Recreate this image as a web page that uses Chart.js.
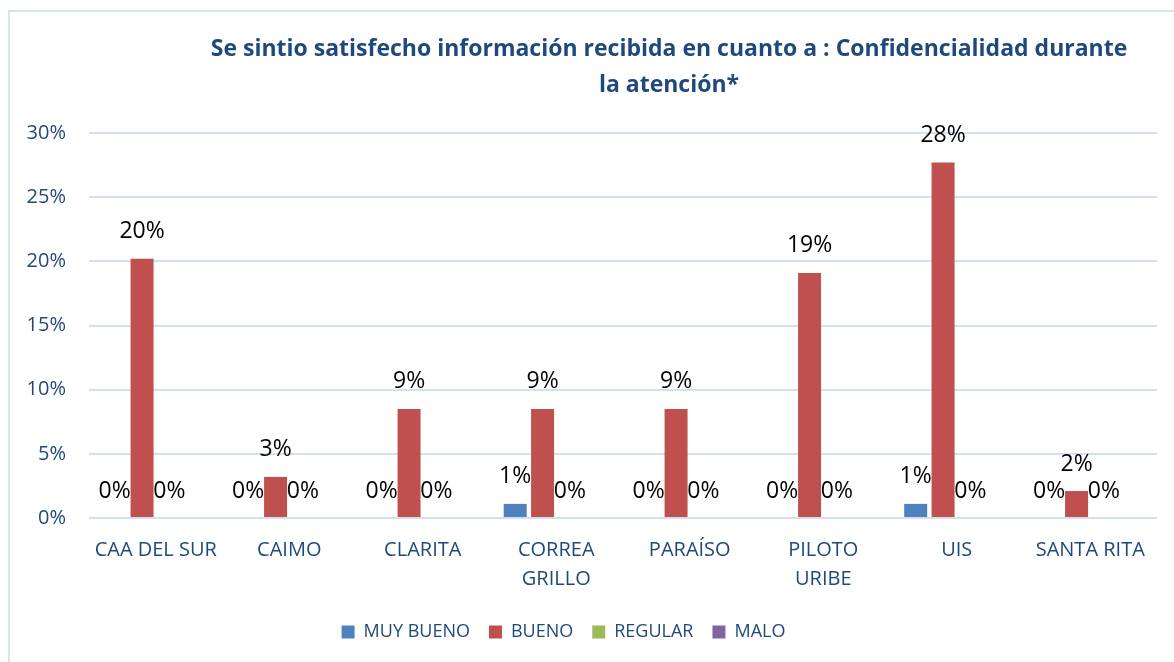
<!DOCTYPE html>
<html>
<head>
<meta charset="utf-8">
<script src="https://cdn.jsdelivr.net/npm/chart.js@4.4.0/dist/chart.umd.min.js"></script>
<style>
  body { margin: 0; background: #fff; }
  #frame {
    position: absolute; left: 8px; top: 10px;
    width: 1170px; height: 660px;
    border: 2px solid #d9e4f3;
  }
  #c { position: absolute; left: 0; top: 0; }
</style>
</head>
<body>
<div id="frame"></div>
<canvas id="c" width="1174" height="662"></canvas>
<script>
const categories = [
  "CAA DEL SUR", "CAIMO", "CLARITA", ["CORREA", "GRILLO"],
  "PARAÍSO", ["PILOTO", "URIBE"], "UIS", "SANTA RITA"
];
const muyBueno = [0, 0, 0, 1.1, 0, 0, 1.1, 0];
const bueno = [20.2, 3.2, 8.5, 8.5, 8.5, 19.1, 27.7, 2.1];
const regular = [0, 0, 0, 0, 0, 0, 0, 0];
const malo = [0, 0, 0, 0, 0, 0, 0, 0];
const yTicks = [0, 5, 10, 15, 20, 25, 30];

const titleLines = [
  "Se sintio satisfecho información recibida en cuanto a : Confidencialidad durante",
  "la atención*"
];

const textBlue = "#1f497d";
const font = "'Open Sans', 'Noto Sans', sans-serif";

// title drawn by hand so it can sit off-centre like the original
const titlePlugin = {
  id: "sideTitle",
  afterDraw(chart) {
    const ctx = chart.ctx;
    ctx.save();
    ctx.fillStyle = textBlue;
    ctx.font = "bold 23px " + font;
    ctx.textAlign = "center";
    ctx.textBaseline = "middle";
    ctx.fillText(titleLines[0], 669, 49);
    ctx.fillText(titleLines[1], 669, 85);
    ctx.restore();
  }
};

// value labels above bars (no labels for MALO)
const labelPlugin = {
  id: "barLabels",
  afterDatasetsDraw(chart) {
    const ctx = chart.ctx;
    ctx.save();
    ctx.fillStyle = "#000";
    ctx.font = "23px " + font;
    ctx.textAlign = "center";
    ctx.textBaseline = "middle";
    chart.data.datasets.forEach((ds, i) => {
      if (ds.noLabels) return;
      const meta = chart.getDatasetMeta(i);
      meta.data.forEach((bar, j) => {
        ctx.fillText(Math.round(ds.data[j]) + "%", bar.x, bar.y - 27);
      });
    });
    ctx.restore();
  }
};

new Chart(document.getElementById("c"), {
  type: "bar",
  data: {
    labels: categories,
    datasets: [
      { label: "MUY BUENO", data: muyBueno, backgroundColor: "#4f81bd" },
      { label: "BUENO", data: bueno, backgroundColor: "#c0504d" },
      { label: "REGULAR", data: regular, backgroundColor: "#9bbb59" },
      { label: "MALO", data: malo, backgroundColor: "#8064a2", noLabels: true }
    ]
  },
  options: {
    responsive: false,
    animation: false,
    devicePixelRatio: 1,
    // negative left padding moves the legend left; the y axis width makes up for it
    layout: { padding: { top: 133, right: 17, bottom: 11, left: -30 } },
    datasets: { bar: { barPercentage: 0.84, categoryPercentage: 0.82 } },
    plugins: {
      legend: {
        position: "bottom",
        labels: {
          boxWidth: 13, boxHeight: 13, padding: 19,
          color: textBlue, font: { family: font, size: 18 }
        }
      },
      tooltip: { enabled: false }
    },
    scales: {
      y: {
        min: 0, max: 30,
        afterFit(s) { s.width = 119; },
        afterBuildTicks(s) { s.ticks = yTicks.map(v => ({ value: v })); },
        ticks: {
          padding: 23, color: textBlue,
          font: { family: font, size: 20 },
          callback: v => v + "%"
        },
        grid: { color: "#d3e0f1", lineWidth: 2, drawTicks: false },
        border: { display: false }
      },
      x: {
        afterFit(s) { s.height = 86; },
        ticks: {
          padding: 18, color: textBlue, maxRotation: 0, autoSkip: false,
          font: { family: font, size: 20, lineHeight: 1.45 }
        },
        grid: { display: false, drawTicks: false },
        border: { display: false }
      }
    }
  },
  plugins: [titlePlugin, labelPlugin]
});
</script>
</body>
</html>
